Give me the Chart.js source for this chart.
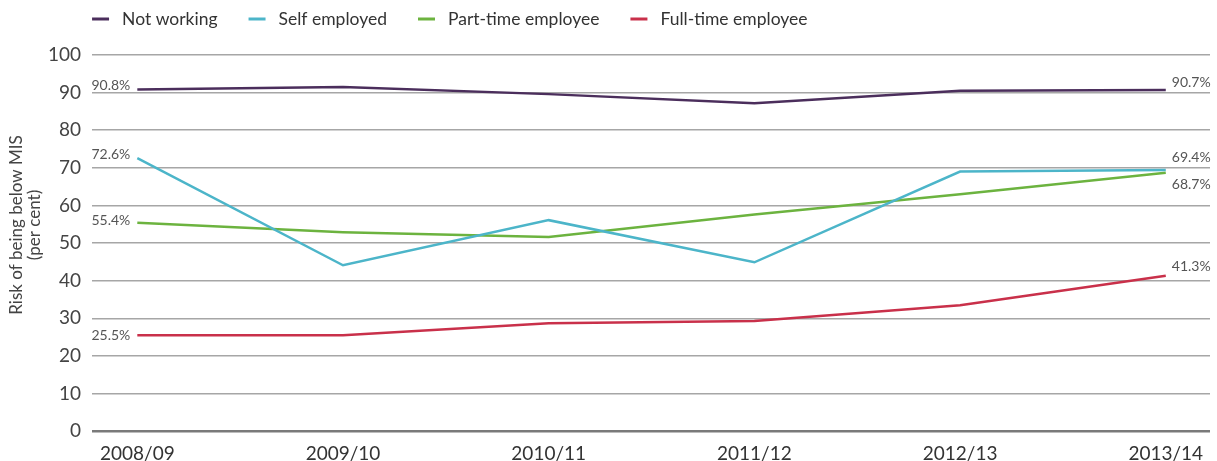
<!DOCTYPE html>
<html>
<head>
<meta charset="utf-8">
<script src="https://cdn.jsdelivr.net/npm/chart.js@4"></script>
<style>
  body { margin: 0; background: #fff; }
  #wrap { width: 1217px; height: 461px; position: relative; }
</style>
</head>
<body>
<div id="wrap"><canvas id="riskChart"></canvas></div>
<script>
const years = ['2008/09', '2009/10', '2010/11', '2011/12', '2012/13', '2013/14'];
const notWorking = [90.8, 91.5, 89.6, 87.2, 90.5, 90.7];
const selfEmployed = [72.6, 44.1, 56.1, 44.9, 69.0, 69.4];
const partTime = [55.4, 52.9, 51.6, 57.6, 63.0, 68.7];
const fullTime = [25.5, 25.5, 28.7, 29.3, 33.5, 41.3];
const yTicks = [0, 10, 20, 30, 40, 50, 60, 70, 80, 90, 100];
const yTitle = ['Risk of being below MIS', '(per cent)'];

const FONT = "Lato, 'Open Sans', sans-serif";

function toPoints(values) {
  return values.map((v, i) => ({ x: i, y: v }));
}

// vertical nudges (px) for the first / last value labels of each series
const labelNudge = [
  { start: -4, end: -8 },
  { start: -4, end: -13 },
  { start: -2, end: 12 },
  { start: 0, end: -9 }
];

const valueLabels = {
  id: 'valueLabels',
  afterDatasetsDraw(chart) {
    const ctx = chart.ctx;
    ctx.save();
    ctx.font = '14px ' + FONT;
    ctx.fillStyle = '#555';
    ctx.textBaseline = 'middle';
    chart.data.datasets.forEach((ds, i) => {
      const pts = chart.getDatasetMeta(i).data;
      const first = pts[0], last = pts[pts.length - 1];
      ctx.textAlign = 'right';
      ctx.fillText(ds.data[0].y.toFixed(1) + '%', first.x - 7, first.y + labelNudge[i].start);
      ctx.textAlign = 'left';
      ctx.fillText(ds.data[ds.data.length - 1].y.toFixed(1) + '%', last.x + 6, last.y + labelNudge[i].end);
    });
    ctx.restore();
  }
};

// legend row and rotated axis title
const decorations = {
  id: 'decorations',
  afterDraw(chart) {
    const ctx = chart.ctx;
    const area = chart.chartArea;
    ctx.save();
    ctx.font = '17.5px ' + FONT;
    ctx.textBaseline = 'middle';
    ctx.textAlign = 'left';
    let x = area.left;
    const y = 19;
    chart.data.datasets.forEach(ds => {
      ctx.strokeStyle = ds.borderColor;
      ctx.lineWidth = 3;
      ctx.beginPath();
      ctx.moveTo(x, y);
      ctx.lineTo(x + 17, y);
      ctx.stroke();
      x += 30;
      ctx.fillStyle = '#333';
      ctx.fillText(ds.label, x, y);
      x += ctx.measureText(ds.label).width + 31;
    });

    ctx.translate(25, 225);
    ctx.rotate(-Math.PI / 2);
    ctx.textAlign = 'center';
    ctx.fillStyle = '#444';
    ctx.font = '17px ' + FONT;
    ctx.fillText(yTitle[0], 0, -8);
    ctx.fillText(yTitle[1], 0, 10);
    ctx.restore();
  }
};

new Chart(document.getElementById('riskChart'), {
  type: 'line',
  data: {
    datasets: [
      { label: 'Not working', data: toPoints(notWorking), borderColor: '#4b2e5c', backgroundColor: '#4b2e5c' },
      { label: 'Self employed', data: toPoints(selfEmployed), borderColor: '#4cb5c9', backgroundColor: '#4cb5c9' },
      { label: 'Part-time employee', data: toPoints(partTime), borderColor: '#6cb33f', backgroundColor: '#6cb33f' },
      { label: 'Full-time employee', data: toPoints(fullTime), borderColor: '#c9304a', backgroundColor: '#c9304a' }
    ]
  },
  options: {
    responsive: true,
    maintainAspectRatio: false,
    animation: false,
    layout: { padding: { left: 37, right: 7, top: 55, bottom: -7 } },
    elements: {
      line: { borderWidth: 2.5, tension: 0 },
      point: { radius: 0 }
    },
    scales: {
      x: {
        type: 'linear',
        min: -0.22,
        max: 5.215,
        afterBuildTicks: axis => { axis.ticks = years.map((y, i) => ({ value: i })); },
        ticks: {
          callback: v => years[v],
          color: '#333',
          font: { family: FONT, size: 19 },
          padding: 3,
          maxRotation: 0
        },
        grid: { display: false },
        border: { display: false }
      },
      y: {
        min: 0,
        max: 100,
        afterBuildTicks: axis => { axis.ticks = yTicks.map(v => ({ value: v })); },
        ticks: {
          color: '#444',
          font: { family: FONT, size: 19 },
          padding: 11
        },
        grid: {
          drawTicks: false,
          color: ctx => ctx.tick && ctx.tick.value === 0 ? '#7a7a7a' : '#a6a6a6',
          lineWidth: ctx => ctx.tick && ctx.tick.value === 0 ? 2.5 : 1.5
        },
        border: { display: false }
      }
    },
    plugins: {
      legend: { display: false },
      tooltip: { enabled: false }
    }
  },
  plugins: [valueLabels, decorations]
});
</script>
</body>
</html>
